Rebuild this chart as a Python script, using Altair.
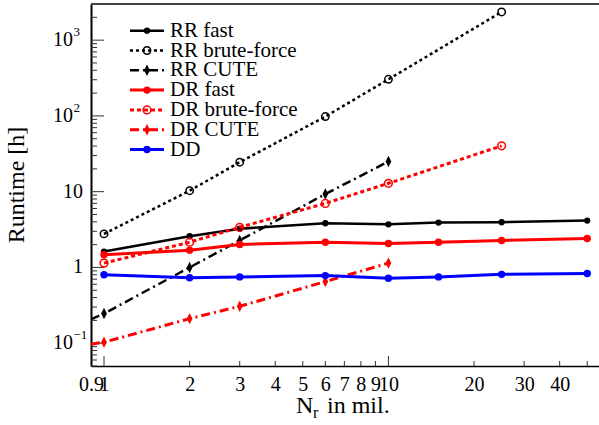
import altair as alt
import pandas as pd

FONT = "Liberation Serif"

# ---------------- data ----------------
x_fast = [1, 2, 3, 6, 10, 15, 25, 50]
rr_fast = [1.62, 2.58, 3.25, 3.83, 3.71, 3.91, 3.95, 4.15]
dr_fast = [1.47, 1.69, 2.01, 2.15, 2.07, 2.15, 2.27, 2.41]
dd = [0.80, 0.73, 0.75, 0.78, 0.72, 0.75, 0.81, 0.83]

x_bf = [1, 2, 3, 6, 10, 25]
rr_bf = [2.77, 10.3, 24.5, 98, 304, 2356]
dr_bf = [1.14, 2.15, 3.39, 7.0, 12.9, 40.3]

x_cute = [1, 2, 3, 6, 10]
rr_cute = [0.246, 1.0, 2.27, 9.3, 25]
dr_cute = [0.103, 0.211, 0.307, 0.65, 1.14]
# CUTE fit lines reach the left frame (x = 0.9)
x_cute_line = [0.9, 1, 2, 3, 6, 10]
rr_cute_line = [0.207, 0.246, 1.0, 2.27, 9.3, 25]
dr_cute_line = [0.097, 0.103, 0.211, 0.307, 0.65, 1.14]

series_names = ["RR fast", "RR brute-force", "RR CUTE", "DR fast",
                "DR brute-force", "DR CUTE", "DD"]

x_tick_labels = [0.9, 1, 2, 3, 4, 5, 6, 7, 8, 9, 10, 20, 30, 40]
x_major_ticks = [1, 10]
x_minor_ticks = [2, 3, 4, 5, 6, 7, 8, 9, 20, 30, 40, 50]
y_major_ticks = [0.1, 1, 10, 100, 1000]
y_minor_ticks = [0.05, 0.06, 0.07, 0.08, 0.09,
                 0.2, 0.3, 0.4, 0.5, 0.6, 0.7, 0.8, 0.9,
                 2, 3, 4, 5, 6, 7, 8, 9,
                 20, 30, 40, 50, 60, 70, 80, 90,
                 200, 300, 400, 500, 600, 700, 800, 900,
                 2000, 3000]
y_plain_vals = [1, 10]
y_plain_text = ["1", "10"]
y_exp_vals = [0.1, 100, 1000]
y_exp_base = ["10", "10", "10"]
y_exp_sup = ["\u22121", "2", "3"]

# ---------------- scales / axes ----------------
W, H = 508, 362
xscale = alt.Scale(type="log", domain=[0.9, 55])
yscale = alt.Scale(type="log", domain=[0.05, 3000])
xaxis = alt.Axis(values=x_tick_labels, labelExpr="datum.value", labelFont=FONT,
                 labelFontSize=20, labelColor="black", labelPadding=8,
                 ticks=False, grid=False, domainColor="black", domainWidth=1.5,
                 labelOverlap=False, labelFlush=False)
yaxis = alt.Axis(labels=False, ticks=False, grid=False, domainColor="black",
                 domainWidth=2)


def X():
    return alt.X("x:Q", scale=xscale, axis=xaxis, title=None)


def Y():
    return alt.Y("y:Q", scale=yscale, axis=yaxis, title=None)


DIAMOND = "M0,-1L0.5,0L0,1L-0.5,0Z"

styles = [
    # name, xs, ys, line_xs, line_ys, color, dash, width, shape, size, filled
    ("RR fast", x_fast, rr_fast, x_fast, rr_fast, "black", None, 2.5, "circle", 40, True),
    ("RR brute-force", x_bf, rr_bf, x_bf, rr_bf, "black", [3, 3], 2.5, "circle", 55, False),
    ("RR CUTE", x_cute, rr_cute, x_cute_line, rr_cute_line, "black", [9, 4, 2, 4], 2.5, DIAMOND, 130, True),
    ("DR fast", x_fast, dr_fast, x_fast, dr_fast, "#ff0000", None, 3, "circle", 55, True),
    ("DR brute-force", x_bf, dr_bf, x_bf, dr_bf, "#ff0000", [4, 3], 3, "circle", 60, False),
    ("DR CUTE", x_cute, dr_cute, x_cute_line, dr_cute_line, "#ff0000", [9, 4, 2, 4], 3, DIAMOND, 130, True),
    ("DD", x_fast, dd, x_fast, dd, "#0000ff", None, 3, "circle", 55, True),
]

layers = []
legend_layers = []
for i, (name, xs, ys, lxs, lys, color, dash, width, shape, size, filled) in enumerate(styles):
    line_kw = dict(color=color, strokeWidth=width, clip=True)
    if dash:
        line_kw["strokeDash"] = dash
    layers.append(alt.Chart(pd.DataFrame({"x": lxs, "y": lys})).mark_line(**line_kw)
                  .encode(x=X(), y=Y()))
    layers.append(alt.Chart(pd.DataFrame({"x": xs, "y": ys})).mark_point(
        shape=shape, size=size, filled=filled, color=color, strokeWidth=1.5,
        opacity=1).encode(x=X(), y=Y()))

    ly = 26.7 + 19.8 * i
    ldf = pd.DataFrame({"name": [name]})
    legend_layers.append(alt.Chart(ldf).mark_rule(**{k: v for k, v in line_kw.items() if k != "clip"})
                         .encode(x=alt.value(39), x2=alt.value(73), y=alt.value(ly)))
    legend_layers.append(alt.Chart(ldf).mark_point(
        shape=shape, size=size, filled=filled, color=color, strokeWidth=1.5,
        opacity=1).encode(x=alt.value(56), y=alt.value(ly)))
    legend_layers.append(alt.Chart(ldf).mark_text(
        align="left", baseline="middle", font=FONT, fontSize=21, color="black")
        .encode(x=alt.value(79), y=alt.value(ly), text="name:N"))

# ticks drawn inward
ticks = [
    alt.Chart(pd.DataFrame({"x": x_major_ticks})).mark_rule(color="#333", strokeWidth=1)
    .encode(x=alt.X("x:Q", scale=xscale, axis=xaxis, title=None), y=alt.value(H), y2=alt.value(H - 10)),
    alt.Chart(pd.DataFrame({"x": x_minor_ticks})).mark_rule(color="#333", strokeWidth=1)
    .encode(x=alt.X("x:Q", scale=xscale, axis=xaxis, title=None), y=alt.value(H), y2=alt.value(H - 5)),
    alt.Chart(pd.DataFrame({"y": y_major_ticks})).mark_rule(color="#333", strokeWidth=1)
    .encode(y=alt.Y("y:Q", scale=yscale, axis=yaxis, title=None), x=alt.value(0), x2=alt.value(13)),
    alt.Chart(pd.DataFrame({"y": y_minor_ticks})).mark_rule(color="#333", strokeWidth=1)
    .encode(y=alt.Y("y:Q", scale=yscale, axis=yaxis, title=None), x=alt.value(0), x2=alt.value(6)),
]

# y tick labels
ylabels = [
    alt.Chart(pd.DataFrame({"y": y_plain_vals, "t": y_plain_text})).mark_text(
        align="right", baseline="middle", font=FONT, fontSize=20, color="black")
    .encode(y=alt.Y("y:Q", scale=yscale, axis=yaxis, title=None), x=alt.value(-8), text="t:N"),
    alt.Chart(pd.DataFrame({"y": y_exp_vals, "t": y_exp_base})).mark_text(
        align="right", baseline="middle", font=FONT, fontSize=20, color="black")
    .encode(y=alt.Y("y:Q", scale=yscale, axis=yaxis, title=None), x=alt.value(-18), text="t:N"),
    alt.Chart(pd.DataFrame({"y": y_exp_vals, "t": y_exp_sup})).mark_text(
        align="left", baseline="middle", font=FONT, fontSize=13, color="black", dy=-8)
    .encode(y=alt.Y("y:Q", scale=yscale, axis=yaxis, title=None), x=alt.value(-17.5), text="t:N"),
]

one = pd.DataFrame({"a": [0]})
titles = [
    alt.Chart(one).mark_text(align="left", baseline="alphabetic", font=FONT,
                             fontSize=24, color="black", text="N")
    .encode(x=alt.value(205), y=alt.value(409)),
    alt.Chart(one).mark_text(align="left", baseline="alphabetic", font=FONT,
                             fontSize=16, color="black", text="r")
    .encode(x=alt.value(222), y=alt.value(414)),
    alt.Chart(one).mark_text(align="left", baseline="alphabetic", font=FONT,
                             fontSize=24, color="black", text="in mil.")
    .encode(x=alt.value(236), y=alt.value(409)),
    alt.Chart(one).mark_text(align="center", baseline="middle", font=FONT,
                             fontSize=24, color="black", text="Runtime [h]", angle=270)
    .encode(x=alt.value(-74), y=alt.value(181)),
    alt.Chart(one).mark_rule(color="#444", strokeWidth=2)
    .encode(x=alt.value(0), x2=alt.value(W), y=alt.value(0)),
]

chart = alt.layer(*ticks, *layers, *legend_layers, *ylabels, *titles).properties(
    width=W, height=H,
    autosize=alt.AutoSizeParams(type="none"),
    padding={"left": 91, "top": 4, "right": 0, "bottom": 59},
).configure_view(stroke=None)

chart.save("out.html", embed_options={"renderer": "svg", "actions": False})
